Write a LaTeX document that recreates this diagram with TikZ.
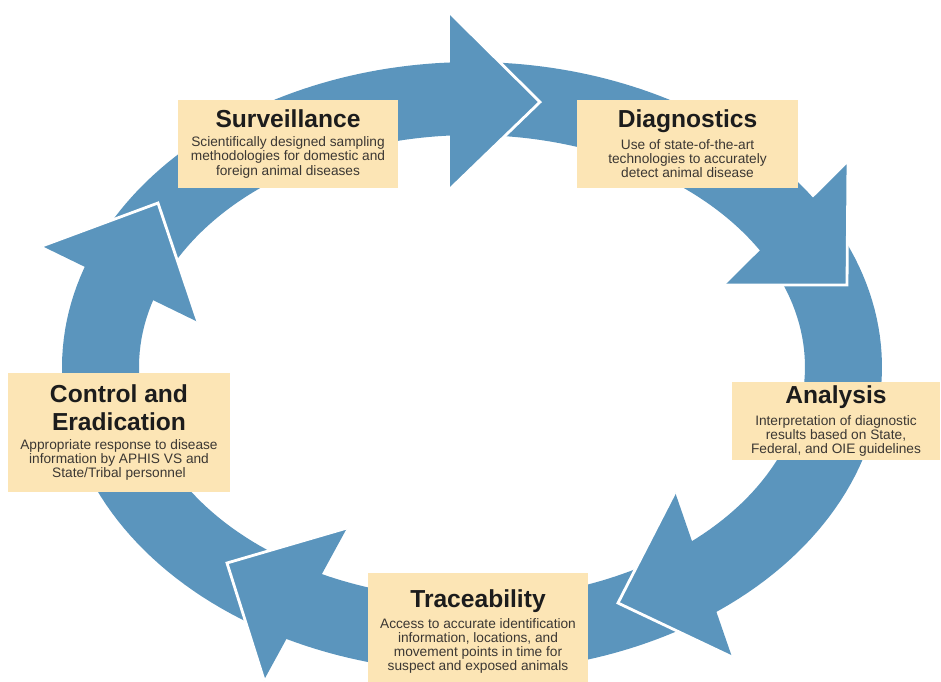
\documentclass[tikz,border=0pt]{standalone}
\usepackage{fontspec}
\setmainfont{Liberation Sans}
\usepackage{tikz}

\definecolor{ringblue}{HTML}{5B95BD}
\definecolor{boxtan}{HTML}{FCE5B5}
\definecolor{headink}{HTML}{1C1C1C}
\definecolor{bodyink}{HTML}{3B3733}
\newcommand{\boxhead}{\fontsize{14}{16}\selectfont\bfseries\color{headink}}
\newcommand{\boxtext}{\fontsize{7.8}{8}\selectfont\color{bodyink}}

\begin{document}
\begin{tikzpicture}[x=0.02cm, y=-0.02cm,
	band/.style={fill=ringblue},
	head/.style={fill=ringblue},
	headedge/.style={draw=white, line width=1.6pt, line join=miter},
	infobox/.style={fill=boxtan, inner sep=0pt, align=flush center, text width=#1}]

	\useasboundingbox (0,0) rectangle (941,681);
	\clip (0,0) rectangle (941,681);

	% Ring bands
	\begin{scope}[shift={(472,367)}]
	\fill[band] plot[domain=204:272, samples=50] ({410*cos(\x)},{305*sin(\x)}) -- plot[domain=272:204, samples=50] ({333*cos(\x)},{232*sin(\x)}) -- cycle;
	\fill[band] plot[domain=268:333, samples=50] ({410*cos(\x)},{305*sin(\x)}) -- plot[domain=333:268, samples=50] ({333*cos(\x)},{232*sin(\x)}) -- cycle;
	\fill[band] plot[domain=334:416, samples=50] ({410*cos(\x)},{305*sin(\x)}) -- plot[domain=416:334, samples=50] ({333*cos(\x)},{232*sin(\x)}) -- cycle;
	\fill[band] plot[domain=58:122, samples=50] ({410*cos(\x)},{305*sin(\x)}) -- plot[domain=122:58, samples=50] ({333*cos(\x)},{232*sin(\x)}) -- cycle;
	\fill[band] plot[domain=121:204, samples=50] ({410*cos(\x)},{305*sin(\x)}) -- plot[domain=204:121, samples=50] ({333*cos(\x)},{232*sin(\x)}) -- cycle;
	\end{scope}

	% Arrow heads
	\fill[head] (450,13) -- (540,102) -- (450,189) -- cycle;
	\draw[headedge] (450,13) -- (540,102) -- (450,189);
	\fill[head] (848,163) -- (847,285) -- (725,285) -- cycle;
	\draw[headedge] (848,163) -- (847,285) -- (725,285);
	\fill[head] (675,492) -- (618,603) -- (732,657) -- cycle;
	\draw[headedge] (675,492) -- (618,603) -- (732,657);
	\fill[head] (347,528) -- (227,563) -- (264,680) -- cycle;
	\draw[headedge] (347,528) -- (227,563) -- (264,680);
	\fill[head] (42,246) -- (158,203) -- (198,322) -- cycle;
	\draw[headedge] (42,246) -- (158,203) -- (198,322);

	% Surveillance
	\node[infobox=4.4cm, minimum height=1.76cm] (surv) at (288,144)
		{{\boxhead Surveillance\par}\vspace{2.8pt}
		{\boxtext Scientifically designed sampling\\methodologies for domestic and\\foreign animal diseases\par}};

	% Diagnostics
	\node[infobox=4.42cm, minimum height=1.76cm] (diag) at (687.5,144)
		{{\boxhead Diagnostics\par}\vspace{2.8pt}
		{\boxtext Use of state-of-the-art\\technologies to accurately\\detect animal disease\par}};

	% Analysis
	\node[infobox=4.16cm, minimum height=1.56cm] (anal) at (836,421)
		{{\boxhead Analysis\par}\vspace{2.8pt}
		{\boxtext Interpretation of diagnostic\\results based on State,\\Federal, and OIE guidelines\par}};

	% Traceability
	\node[infobox=4.4cm, minimum height=2.34cm] (trace) at (478,631.5)
		{{\boxhead Traceability\par}\vspace{2.8pt}
		{\boxtext Access to accurate identification\\information, locations, and\\movement points in time for\\suspect and exposed animals\par}};

	% Control and Eradication
	\node[infobox=4.44cm, minimum height=2.38cm] (ctrl) at (119,432.5)
		{{\boxhead Control and\\Eradication\par}\vspace{2.8pt}
		{\boxtext Appropriate response to disease\\information by APHIS VS and\\State/Tribal personnel\par}};

\end{tikzpicture}
\end{document}
